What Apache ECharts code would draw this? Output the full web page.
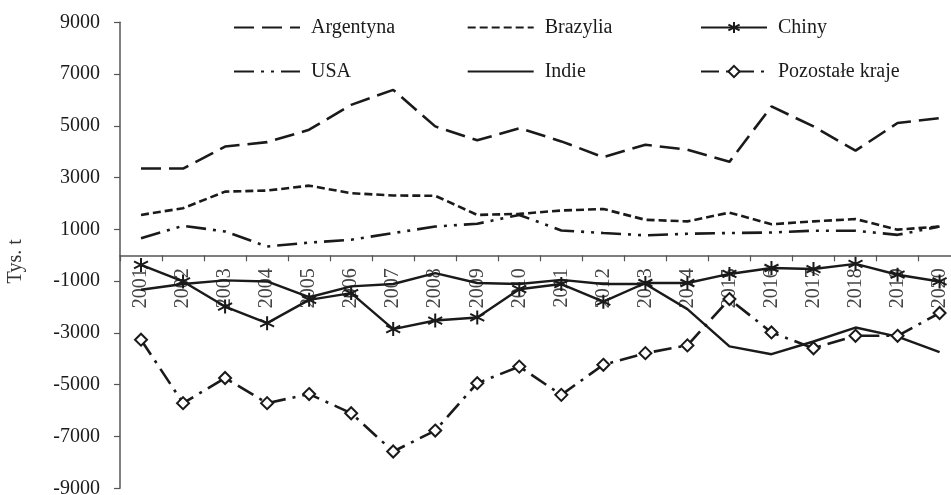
<!DOCTYPE html>
<html>
<head>
<meta charset="utf-8">
<script src="https://cdn.jsdelivr.net/npm/echarts@6/dist/echarts.min.js"></script>
<style>
html,body{margin:0;padding:0;background:#fff;}
#chart{width:951px;height:495px;}
</style>
</head>
<body>
<div id="chart"></div>
<script>
var years = ['2001','2002','2003','2004','2005','2006','2007','2008','2009','2010','2011','2012','2013','2014','2015','2016','2017','2018','2019','2020'];
var argentyna = [3350, 3350, 4200, 4370, 4850, 5810, 6390, 4980, 4440, 4910, 4400, 3790, 4270, 4080, 3610, 5750, 4980, 4040, 5110, 5300];
var brazylia = [1560, 1820, 2460, 2500, 2690, 2400, 2310, 2300, 1560, 1600, 1730, 1790, 1370, 1310, 1650, 1200, 1310, 1400, 990, 1110];
var chiny = [-370, -1010, -1980, -2620, -1720, -1460, -2850, -2520, -2400, -1310, -1110, -1790, -1070, -1070, -720, -490, -530, -330, -750, -1010];
var usa = [660, 1140, 920, 340, 490, 600, 860, 1110, 1220, 1560, 960, 860, 770, 830, 860, 880, 950, 950, 790, 1110];
var indie = [-1330, -1110, -970, -1010, -1620, -1200, -1110, -690, -1070, -1110, -950, -1110, -1110, -2080, -3520, -3820, -3330, -2790, -3140, -3740];
var pozostale = [-3260, -5710, -4740, -5710, -5360, -6100, -7580, -6770, -4940, -4300, -5390, -4230, -3780, -3480, -1690, -2980, -3590, -3110, -3110, -2230];
var yTicks = [-9000, -7000, -5000, -3000, -1000, 1000, 3000, 5000, 7000, 9000];

var FONT = '"Liberation Serif", "Times New Roman", serif';
var INK = '#1a1a1a';
var asterisk = 'path://M0,-7L0,7M-6,-3.5L6,3.5M-6,3.5L6,-3.5';

function legendAt(name, left, top, hideSymbol) {
  var item = hideSymbol ? { name: name, itemStyle: { opacity: 0 } } : { name: name };
  return {
    data: [item], left: left, top: top, padding: 0, orient: 'horizontal',
    itemWidth: 66, itemHeight: 14, selectedMode: false,
    textStyle: { fontFamily: FONT, fontSize: 20, color: INK, lineHeight: 20, padding: [0,0,0,6] }
  };
}

var chart = echarts.init(document.getElementById('chart'), null, { renderer: 'canvas' });
chart.setOption({
  animation: false,
  backgroundColor: '#fff',
  grid: { left: 120, top: 22.3, right: -9.6, bottom: 6.7, containLabel: false, outerBoundsMode: 'none' },
  legend: [
    legendAt('Argentyna', 233, 17.5, true),
    legendAt('Brazylia', 466.7, 17.5, true),
    legendAt('Chiny', 700, 17.5, false),
    legendAt('USA', 233, 61.5, true),
    legendAt('Indie', 466.7, 61.5, true),
    legendAt('Pozostałe kraje', 700, 61.5, false)
  ],
  xAxis: {
    type: 'category',
    data: years,
    boundaryGap: true,
    position: 'bottom',
    offset: -233,
    z: 1,
    axisLine: { onZero: false, lineStyle: { color: '#555', width: 1.5 } },
    axisTick: { show: true, inside: false, length: 6, lineStyle: { color: '#555', width: 1.2 } },
    axisLabel: { interval: 0, rotate: 90, margin: 13, fontFamily: FONT, fontSize: 20, color: '#444', hideOverlap: false },
    splitLine: { show: false }
  },
  yAxis: {
    type: 'value',
    min: -9000, max: 9000,
    name: 'Tys. t',
    nameLocation: 'middle',
    nameGap: 94,
    nameTextStyle: { fontFamily: FONT, fontSize: 20, color: '#333', padding: [0, 12, 0, 0] },
    axisLine: { show: true, lineStyle: { color: '#555', width: 1.5 } },
    axisTick: { show: true, length: 6, customValues: yTicks, lineStyle: { color: '#555', width: 1.2 } },
    axisLabel: { customValues: yTicks, margin: 20, fontFamily: FONT, fontSize: 20, color: INK,
      formatter: function (v) { return String(v); } },
    splitLine: { show: false }
  },
  series: [
    { name: 'Argentyna', type: 'line', data: argentyna, symbol: 'none', z: 3,
      lineStyle: { color: INK, width: 2.6, type: [20, 8] }, itemStyle: { color: INK } },
    { name: 'Brazylia', type: 'line', data: brazylia, symbol: 'none', z: 3,
      lineStyle: { color: INK, width: 2.6, type: [8, 4] }, itemStyle: { color: INK } },
    { name: 'Chiny', type: 'line', data: chiny, symbol: asterisk, symbolSize: 14, z: 4,
      lineStyle: { color: INK, width: 2.4, type: 'solid' },
      itemStyle: { color: INK, borderColor: INK, borderWidth: 2 } },
    { name: 'USA', type: 'line', data: usa, symbol: 'none', z: 3,
      lineStyle: { color: INK, width: 2.6, type: [20, 7, 3, 7, 3, 7] }, itemStyle: { color: INK } },
    { name: 'Indie', type: 'line', data: indie, symbol: 'none', z: 3,
      lineStyle: { color: INK, width: 2.4, type: 'solid' }, itemStyle: { color: INK } },
    { name: 'Pozostałe kraje', type: 'line', data: pozostale, symbol: 'diamond', symbolSize: 12, showSymbol: true, z: 4,
      lineStyle: { color: INK, width: 2.6, type: [18, 7, 3, 7] },
      itemStyle: { color: '#fff', borderColor: INK, borderWidth: 2 } }
  ]
});
</script>
</body>
</html>
